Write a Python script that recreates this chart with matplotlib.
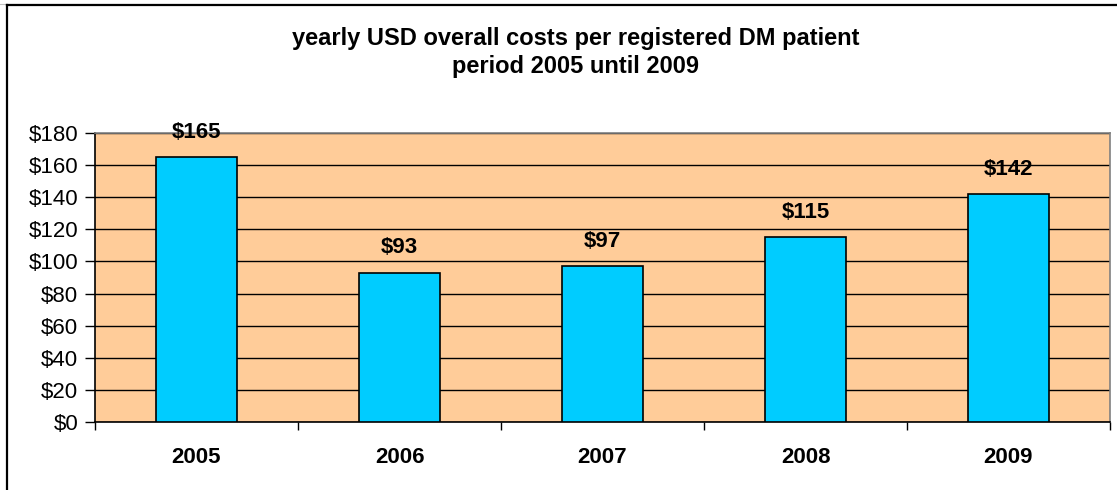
import matplotlib
matplotlib.use("Agg")
import matplotlib.pyplot as plt
from matplotlib.lines import Line2D
from matplotlib.ticker import FuncFormatter, MultipleLocator

years = ["2005", "2006", "2007", "2008", "2009"]
costs = [165, 93, 97, 115, 142]

plt.rcParams["font.family"] = ["Liberation Sans", "DejaVu Sans"]

W, H = 1117, 490
fig = plt.figure(figsize=(W / 100, H / 100), dpi=100)
fig.patch.set_facecolor("white")

# plot area in pixel coordinates
left, right, top, bottom = 95, 1110, 133, 422
ax = fig.add_axes([left / W, 1 - bottom / H, (right - left) / W, (bottom - top) / H])
ax.set_facecolor("#FFCC99")

x = list(range(len(years)))
ax.bar(x, costs, width=0.4, color="#00CCFF", edgecolor="black", linewidth=1.2, zorder=3)

for xi, v in zip(x, costs):
    ax.annotate(f"${v}", (xi, v), xytext=(0, 18), textcoords="offset points",
                ha="center", va="center", fontsize=16, fontweight="bold", zorder=4)

ax.set_xlim(-0.5, len(years) - 0.5)
ax.set_ylim(0, 180)
ax.yaxis.set_major_locator(MultipleLocator(20))
ax.yaxis.set_major_formatter(FuncFormatter(lambda v, p: f"${v:.0f}"))
ax.grid(axis="y", color="black", linewidth=1.0, zorder=1)
ax.set_axisbelow(True)

ax.set_xticks([i - 0.5 for i in range(len(years) + 1)])
ax.set_xticklabels([])
ax.set_xticks(x, minor=True)
ax.set_xticklabels(years, minor=True, fontsize=16, fontweight="bold")
ax.tick_params(axis="x", which="major", direction="out", length=6, width=1, color="black")
ax.tick_params(axis="x", which="minor", length=0, pad=18)
ax.tick_params(axis="y", direction="out", length=7, width=1, labelsize=16, pad=5)

for side in ("left", "bottom"):
    ax.spines[side].set_color("black")
    ax.spines[side].set_linewidth(1.2)
for side in ("top", "right"):
    ax.spines[side].set_color("#808080")
    ax.spines[side].set_linewidth(1.2)

fig.text(576 / W, 1 - 39 / H, "yearly USD overall costs per registered DM patient",
         ha="center", va="center", fontsize=17, fontweight="bold")
fig.text(576 / W, 1 - 66 / H, "period 2005 until 2009",
         ha="center", va="center", fontsize=17, fontweight="bold")

# chart frame (left and top edges)
fig.add_artist(Line2D([6.5 / W, 6.5 / W], [0, 1 - 5.5 / H], transform=fig.transFigure,
                      color="black", linewidth=1.6))
fig.add_artist(Line2D([6.5 / W, 1], [1 - 5.5 / H, 1 - 5.5 / H], transform=fig.transFigure,
                      color="black", linewidth=1.6))
fig.add_artist(Line2D([0, 1], [1 - 4 / H, 1 - 4 / H], transform=fig.transFigure,
                      color="#c0c0c0", linewidth=0.8, zorder=0))

fig.savefig("out.png", dpi=100)
